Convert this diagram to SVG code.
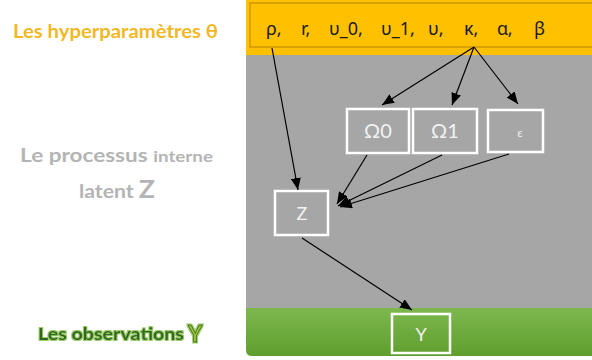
<svg xmlns="http://www.w3.org/2000/svg" width="592" height="360" viewBox="0 0 592 360">
<defs>
<linearGradient id="gr" x1="0" y1="0" x2="0" y2="1">
<stop offset="0" stop-color="#7DB84E"/>
<stop offset="1" stop-color="#5E9E2E"/>
</linearGradient>
<marker id="ah" viewBox="0 0 12 10" refX="12" refY="5" markerWidth="12" markerHeight="10" markerUnits="userSpaceOnUse" orient="auto">
<path d="M0,0 L12,5 L0,10 z" fill="#000"/>
</marker>
<filter id="glow" x="-10%" y="-30%" width="120%" height="160%">
<feMorphology in="SourceAlpha" operator="dilate" radius="1.2" result="d"/>
<feFlood flood-color="#9CCB6A"/>
<feComposite in2="d" operator="in" result="g"/>
<feMerge><feMergeNode in="g"/><feMergeNode in="SourceGraphic"/></feMerge>
</filter>
</defs>
<style>
.node rect{fill:none;stroke:#FFFFFF;stroke-width:2.5}
.node text{fill:#F2F2F2;font-family:Lato,"Liberation Sans",sans-serif;text-anchor:middle}
.conn line{stroke:#000;stroke-width:1.2;marker-end:url(#ah)}
.lbl{font-family:Lato,"Liberation Sans",sans-serif;font-weight:700}
</style>
<rect width="592" height="360" fill="#FFFFFF"/>
<!-- bands -->
<rect x="246" y="0" width="346" height="56" fill="#FFC000"/>
<rect x="250" y="3" width="346" height="44" fill="none" stroke="#D9A100" stroke-width="2"/>
<rect x="246" y="55" width="346" height="254" fill="#A6A6A6"/>
<path d="M246,308 H592 V356 H252 Q246,356 246,350 Z" fill="url(#gr)"/>
<!-- left labels -->
<text class="lbl" x="13" y="38" font-size="19" fill="#F2B824" textLength="205" lengthAdjust="spacingAndGlyphs">Les hyperparamètres θ</text>
<text class="lbl" x="20" y="162" font-size="18" fill="#B4B4B4" textLength="193" lengthAdjust="spacingAndGlyphs">Le processus <tspan font-size="15">interne</tspan></text>
<text class="lbl" x="79" y="198" font-size="19" fill="#B4B4B4" textLength="76" lengthAdjust="spacingAndGlyphs">latent <tspan font-size="24">Z</tspan></text>
<g filter="url(#glow)">
<text class="lbl" x="38" y="340" font-size="17" font-weight="900" fill="#2F6A1F" textLength="146" lengthAdjust="spacingAndGlyphs">Les observations</text>
<text class="lbl" x="188" y="342" font-size="22" font-weight="900" fill="#9CC23A" stroke="#3A6B1E" stroke-width="0.8">Y</text>
</g>
<!-- hyperparameter node -->
<g id="theta">
<text font-family="Noto Sans,DejaVu Sans,sans-serif" font-size="18" fill="#1A1A1A" y="35">
<tspan x="266">ρ,</tspan><tspan x="301">r,</tspan><tspan x="329">υ_0,</tspan><tspan x="381">υ_1,</tspan><tspan x="428">υ,</tspan><tspan x="464">κ,</tspan><tspan x="497">α,</tspan><tspan x="534">β</tspan>
</text>
</g>
<!-- nodes -->
<g id="omega0" class="node"><rect x="347" y="109" width="62" height="44"/><text x="378" y="138" font-size="20" font-family="Liberation Serif,serif">Ω0</text></g>
<g id="omega1" class="node"><rect x="413" y="109" width="64" height="44"/><text x="445" y="138" font-size="20" font-family="Liberation Serif,serif">Ω1</text></g>
<g id="eps" class="node"><rect x="488" y="110" width="55" height="42"/><text x="520" y="137" font-size="12">ε</text></g>
<g id="Z" class="node"><rect x="275" y="191" width="53" height="44"/><text x="302" y="220" font-size="18">Z</text></g>
<g id="Y" class="node"><rect x="392" y="314" width="58" height="39"/><text x="421" y="341" font-size="18">Y</text></g>
<!-- connectors -->
<g id="connectors" class="conn">
<line x1="272" y1="48" x2="298" y2="190"/>
<line x1="474" y1="47" x2="382" y2="105"/>
<line x1="474" y1="47" x2="452" y2="105"/>
<line x1="474" y1="47" x2="518" y2="104"/>
<line x1="367" y1="155" x2="337" y2="204"/>
<line x1="442" y1="155" x2="338" y2="206"/>
<line x1="509" y1="154" x2="340" y2="207"/>
<line x1="302" y1="238" x2="412" y2="310"/>
</g>
</svg>
